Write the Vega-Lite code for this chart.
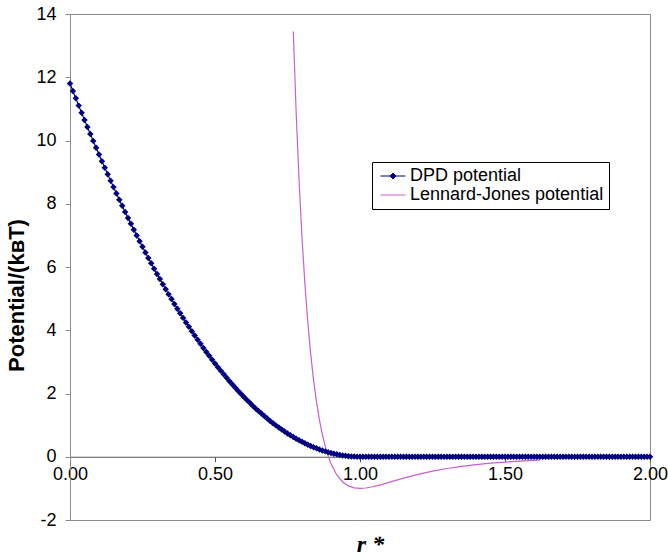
{
  "$schema": "https://vega.github.io/schema/vega-lite/v6.json",
  "width": 580,
  "height": 506,
  "autosize": "none",
  "padding": {"left": 70, "top": 14, "right": 18, "bottom": 39},
  "background": "white",
  "config": {
    "view": {"stroke": "#8a8a8a", "strokeWidth": 1},
    "font": "Liberation Sans"
  },
  "datasets": {
    "pts": [
      {"r":0.00,"u":11.8,"s":"DPD"},{"r":0.01,"u":11.565,"s":"DPD"},{"r":0.02,"u":11.333,"s":"DPD"},{"r":0.03,"u":11.103,"s":"DPD"},{"r":0.04,"u":10.875,"s":"DPD"},{"r":0.05,"u":10.65,"s":"DPD"},{"r":0.06,"u":10.426,"s":"DPD"},{"r":0.07,"u":10.206,"s":"DPD"},{"r":0.08,"u":9.988,"s":"DPD"},{"r":0.09,"u":9.772,"s":"DPD"},
      {"r":0.10,"u":9.558,"s":"DPD"},{"r":0.11,"u":9.347,"s":"DPD"},{"r":0.12,"u":9.138,"s":"DPD"},{"r":0.13,"u":8.931,"s":"DPD"},{"r":0.14,"u":8.727,"s":"DPD"},{"r":0.15,"u":8.526,"s":"DPD"},{"r":0.16,"u":8.326,"s":"DPD"},{"r":0.17,"u":8.129,"s":"DPD"},{"r":0.18,"u":7.934,"s":"DPD"},{"r":0.19,"u":7.742,"s":"DPD"},
      {"r":0.20,"u":7.552,"s":"DPD"},{"r":0.21,"u":7.364,"s":"DPD"},{"r":0.22,"u":7.179,"s":"DPD"},{"r":0.23,"u":6.996,"s":"DPD"},{"r":0.24,"u":6.816,"s":"DPD"},{"r":0.25,"u":6.638,"s":"DPD"},{"r":0.26,"u":6.462,"s":"DPD"},{"r":0.27,"u":6.288,"s":"DPD"},{"r":0.28,"u":6.117,"s":"DPD"},{"r":0.29,"u":5.948,"s":"DPD"},
      {"r":0.30,"u":5.782,"s":"DPD"},{"r":0.31,"u":5.618,"s":"DPD"},{"r":0.32,"u":5.456,"s":"DPD"},{"r":0.33,"u":5.297,"s":"DPD"},{"r":0.34,"u":5.14,"s":"DPD"},{"r":0.35,"u":4.986,"s":"DPD"},{"r":0.36,"u":4.833,"s":"DPD"},{"r":0.37,"u":4.683,"s":"DPD"},{"r":0.38,"u":4.536,"s":"DPD"},{"r":0.39,"u":4.391,"s":"DPD"},
      {"r":0.40,"u":4.248,"s":"DPD"},{"r":0.41,"u":4.108,"s":"DPD"},{"r":0.42,"u":3.97,"s":"DPD"},{"r":0.43,"u":3.834,"s":"DPD"},{"r":0.44,"u":3.7,"s":"DPD"},{"r":0.45,"u":3.57,"s":"DPD"},{"r":0.46,"u":3.441,"s":"DPD"},{"r":0.47,"u":3.315,"s":"DPD"},{"r":0.48,"u":3.191,"s":"DPD"},{"r":0.49,"u":3.069,"s":"DPD"},
      {"r":0.50,"u":2.95,"s":"DPD"},{"r":0.51,"u":2.833,"s":"DPD"},{"r":0.52,"u":2.719,"s":"DPD"},{"r":0.53,"u":2.607,"s":"DPD"},{"r":0.54,"u":2.497,"s":"DPD"},{"r":0.55,"u":2.39,"s":"DPD"},{"r":0.56,"u":2.284,"s":"DPD"},{"r":0.57,"u":2.182,"s":"DPD"},{"r":0.58,"u":2.082,"s":"DPD"},{"r":0.59,"u":1.984,"s":"DPD"},
      {"r":0.60,"u":1.888,"s":"DPD"},{"r":0.61,"u":1.795,"s":"DPD"},{"r":0.62,"u":1.704,"s":"DPD"},{"r":0.63,"u":1.615,"s":"DPD"},{"r":0.64,"u":1.529,"s":"DPD"},{"r":0.65,"u":1.446,"s":"DPD"},{"r":0.66,"u":1.364,"s":"DPD"},{"r":0.67,"u":1.285,"s":"DPD"},{"r":0.68,"u":1.208,"s":"DPD"},{"r":0.69,"u":1.134,"s":"DPD"},
      {"r":0.70,"u":1.062,"s":"DPD"},{"r":0.71,"u":0.992,"s":"DPD"},{"r":0.72,"u":0.925,"s":"DPD"},{"r":0.73,"u":0.86,"s":"DPD"},{"r":0.74,"u":0.798,"s":"DPD"},{"r":0.75,"u":0.738,"s":"DPD"},{"r":0.76,"u":0.68,"s":"DPD"},{"r":0.77,"u":0.624,"s":"DPD"},{"r":0.78,"u":0.571,"s":"DPD"},{"r":0.79,"u":0.52,"s":"DPD"},
      {"r":0.80,"u":0.472,"s":"DPD"},{"r":0.81,"u":0.426,"s":"DPD"},{"r":0.82,"u":0.382,"s":"DPD"},{"r":0.83,"u":0.341,"s":"DPD"},{"r":0.84,"u":0.302,"s":"DPD"},{"r":0.85,"u":0.266,"s":"DPD"},{"r":0.86,"u":0.231,"s":"DPD"},{"r":0.87,"u":0.199,"s":"DPD"},{"r":0.88,"u":0.17,"s":"DPD"},{"r":0.89,"u":0.143,"s":"DPD"},
      {"r":0.90,"u":0.118,"s":"DPD"},{"r":0.91,"u":0.096,"s":"DPD"},{"r":0.92,"u":0.076,"s":"DPD"},{"r":0.93,"u":0.058,"s":"DPD"},{"r":0.94,"u":0.042,"s":"DPD"},{"r":0.95,"u":0.03,"s":"DPD"},{"r":0.96,"u":0.019,"s":"DPD"},{"r":0.97,"u":0.011,"s":"DPD"},{"r":0.98,"u":0.005,"s":"DPD"},{"r":0.99,"u":0.001,"s":"DPD"},
      {"r":1.00,"u":0,"s":"DPD"},{"r":1.01,"u":0,"s":"DPD"},{"r":1.02,"u":0,"s":"DPD"},{"r":1.03,"u":0,"s":"DPD"},{"r":1.04,"u":0,"s":"DPD"},{"r":1.05,"u":0,"s":"DPD"},{"r":1.06,"u":0,"s":"DPD"},{"r":1.07,"u":0,"s":"DPD"},{"r":1.08,"u":0,"s":"DPD"},{"r":1.09,"u":0,"s":"DPD"},
      {"r":1.10,"u":0,"s":"DPD"},{"r":1.11,"u":0,"s":"DPD"},{"r":1.12,"u":0,"s":"DPD"},{"r":1.13,"u":0,"s":"DPD"},{"r":1.14,"u":0,"s":"DPD"},{"r":1.15,"u":0,"s":"DPD"},{"r":1.16,"u":0,"s":"DPD"},{"r":1.17,"u":0,"s":"DPD"},{"r":1.18,"u":0,"s":"DPD"},{"r":1.19,"u":0,"s":"DPD"},
      {"r":1.20,"u":0,"s":"DPD"},{"r":1.21,"u":0,"s":"DPD"},{"r":1.22,"u":0,"s":"DPD"},{"r":1.23,"u":0,"s":"DPD"},{"r":1.24,"u":0,"s":"DPD"},{"r":1.25,"u":0,"s":"DPD"},{"r":1.26,"u":0,"s":"DPD"},{"r":1.27,"u":0,"s":"DPD"},{"r":1.28,"u":0,"s":"DPD"},{"r":1.29,"u":0,"s":"DPD"},
      {"r":1.30,"u":0,"s":"DPD"},{"r":1.31,"u":0,"s":"DPD"},{"r":1.32,"u":0,"s":"DPD"},{"r":1.33,"u":0,"s":"DPD"},{"r":1.34,"u":0,"s":"DPD"},{"r":1.35,"u":0,"s":"DPD"},{"r":1.36,"u":0,"s":"DPD"},{"r":1.37,"u":0,"s":"DPD"},{"r":1.38,"u":0,"s":"DPD"},{"r":1.39,"u":0,"s":"DPD"},
      {"r":1.40,"u":0,"s":"DPD"},{"r":1.41,"u":0,"s":"DPD"},{"r":1.42,"u":0,"s":"DPD"},{"r":1.43,"u":0,"s":"DPD"},{"r":1.44,"u":0,"s":"DPD"},{"r":1.45,"u":0,"s":"DPD"},{"r":1.46,"u":0,"s":"DPD"},{"r":1.47,"u":0,"s":"DPD"},{"r":1.48,"u":0,"s":"DPD"},{"r":1.49,"u":0,"s":"DPD"},
      {"r":1.50,"u":0,"s":"DPD"},{"r":1.51,"u":0,"s":"DPD"},{"r":1.52,"u":0,"s":"DPD"},{"r":1.53,"u":0,"s":"DPD"},{"r":1.54,"u":0,"s":"DPD"},{"r":1.55,"u":0,"s":"DPD"},{"r":1.56,"u":0,"s":"DPD"},{"r":1.57,"u":0,"s":"DPD"},{"r":1.58,"u":0,"s":"DPD"},{"r":1.59,"u":0,"s":"DPD"},
      {"r":1.60,"u":0,"s":"DPD"},{"r":1.61,"u":0,"s":"DPD"},{"r":1.62,"u":0,"s":"DPD"},{"r":1.63,"u":0,"s":"DPD"},{"r":1.64,"u":0,"s":"DPD"},{"r":1.65,"u":0,"s":"DPD"},{"r":1.66,"u":0,"s":"DPD"},{"r":1.67,"u":0,"s":"DPD"},{"r":1.68,"u":0,"s":"DPD"},{"r":1.69,"u":0,"s":"DPD"},
      {"r":1.70,"u":0,"s":"DPD"},{"r":1.71,"u":0,"s":"DPD"},{"r":1.72,"u":0,"s":"DPD"},{"r":1.73,"u":0,"s":"DPD"},{"r":1.74,"u":0,"s":"DPD"},{"r":1.75,"u":0,"s":"DPD"},{"r":1.76,"u":0,"s":"DPD"},{"r":1.77,"u":0,"s":"DPD"},{"r":1.78,"u":0,"s":"DPD"},{"r":1.79,"u":0,"s":"DPD"},
      {"r":1.80,"u":0,"s":"DPD"},{"r":1.81,"u":0,"s":"DPD"},{"r":1.82,"u":0,"s":"DPD"},{"r":1.83,"u":0,"s":"DPD"},{"r":1.84,"u":0,"s":"DPD"},{"r":1.85,"u":0,"s":"DPD"},{"r":1.86,"u":0,"s":"DPD"},{"r":1.87,"u":0,"s":"DPD"},{"r":1.88,"u":0,"s":"DPD"},{"r":1.89,"u":0,"s":"DPD"},
      {"r":1.90,"u":0,"s":"DPD"},{"r":1.91,"u":0,"s":"DPD"},{"r":1.92,"u":0,"s":"DPD"},{"r":1.93,"u":0,"s":"DPD"},{"r":1.94,"u":0,"s":"DPD"},{"r":1.95,"u":0,"s":"DPD"},{"r":1.96,"u":0,"s":"DPD"},{"r":1.97,"u":0,"s":"DPD"},{"r":1.98,"u":0,"s":"DPD"},{"r":1.99,"u":0,"s":"DPD"},
      {"r":2.00,"u":0,"s":"DPD"},
      {"r":0.77,"u":13.448,"s":"LJ"},{"r":0.78,"u":10.856,"s":"LJ"},{"r":0.79,"u":8.713,"s":"LJ"},{"r":0.80,"u":6.938,"s":"LJ"},{"r":0.81,"u":5.467,"s":"LJ"},{"r":0.82,"u":4.252,"s":"LJ"},{"r":0.83,"u":3.246,"s":"LJ"},{"r":0.84,"u":2.417,"s":"LJ"},{"r":0.85,"u":1.734,"s":"LJ"},{"r":0.86,"u":1.172,"s":"LJ"},
      {"r":0.87,"u":0.71,"s":"LJ"},{"r":0.88,"u":0.334,"s":"LJ"},{"r":0.89,"u":0.027,"s":"LJ"},{"r":0.90,"u":-0.22,"s":"LJ"},{"r":0.92,"u":-0.577,"s":"LJ"},{"r":0.94,"u":-0.797,"s":"LJ"},{"r":0.96,"u":-0.922,"s":"LJ"},{"r":0.98,"u":-0.983,"s":"LJ"},{"r":1.00,"u":-1.0,"s":"LJ"},{"r":1.02,"u":-0.988,"s":"LJ"},
      {"r":1.04,"u":-0.956,"s":"LJ"},{"r":1.06,"u":-0.913,"s":"LJ"},{"r":1.08,"u":-0.864,"s":"LJ"},{"r":1.10,"u":-0.81,"s":"LJ"},{"r":1.15,"u":-0.678,"s":"LJ"},{"r":1.20,"u":-0.558,"s":"LJ"},{"r":1.25,"u":-0.456,"s":"LJ"},{"r":1.30,"u":-0.372,"s":"LJ"},{"r":1.35,"u":-0.303,"s":"LJ"},{"r":1.40,"u":-0.248,"s":"LJ"},
      {"r":1.45,"u":-0.204,"s":"LJ"},{"r":1.50,"u":-0.169,"s":"LJ"},{"r":1.55,"u":-0.139,"s":"LJ"},{"r":1.60,"u":-0.116,"s":"LJ"},{"r":1.62,"u":-0.108,"s":"LJ"}
    ]
  },
  "data": {"name": "pts"},
  "encoding": {
    "x": {
      "field": "r", "type": "quantitative",
      "scale": {"domain": [0, 2], "nice": false, "zero": false},
      "axis": {
        "values": [0, 0.5, 1, 1.5, 2], "format": ".2f",
        "offset": -63.25, "grid": false,
        "domainColor": "#555555", "tickColor": "#555555", "tickSize": 5,
        "labelFont": "Liberation Sans", "labelFontSize": 18, "labelColor": "black", "labelPadding": 4,
        "labelFlush": false,
        "title": "r *", "titleFont": "Liberation Serif", "titleFontStyle": "italic", "titleFontWeight": "bold",
        "titleFontSize": 24, "titleColor": "black", "titleY": 76, "titleX": 300
      }
    },
    "y": {
      "field": "u", "type": "quantitative",
      "scale": {"domain": [-2, 14], "nice": false, "zero": false},
      "axis": {
        "values": [-2, 0, 2, 4, 6, 8, 10, 12, 14], "grid": false,
        "labelExpr": "datum.value + ''",
        "domainColor": "#8a8a8a", "tickColor": "#8a8a8a", "tickSize": 5,
        "labelFont": "Liberation Sans", "labelFontSize": 18, "labelColor": "black", "labelPadding": 9,
        "title": "Potential/(kʙT)", "titleFont": "Liberation Sans", "titleFontWeight": "bold",
        "titleFontSize": 22, "titleColor": "black", "titlePadding": 7, "titleY": 281
      }
    },
    "color": {
      "field": "s", "type": "nominal",
      "scale": {"domain": ["DPD", "LJ"], "range": ["#000080", "#c85fd0"]},
      "legend": {
        "orient": "none", "legendX": 302, "legendY": 148,
        "title": null, "direction": "vertical",
        "labelExpr": "datum.value === 'DPD' ? 'DPD potential' : 'Lennard-Jones potential'",
        "labelFont": "Liberation Sans", "labelFontSize": 18, "labelColor": "black", "labelLimit": 400,
        "strokeColor": "black", "fillColor": "white", "padding": 5,
        "symbolSize": 278, "rowPadding": 1, "labelOffset": 8, "symbolOffset": 7,
        "encode": {
          "symbols": {
            "update": {
              "shape": {"signal": "datum.value === 'DPD' ? 'M-1.5,0H1.5M0,-0.35L0.35,0L0,0.35L-0.35,0Z' : 'M-1.5,0H1.5'"},
              "fill": {"signal": "datum.value === 'DPD' ? '#000080' : 'transparent'"},
              "stroke": {"signal": "datum.value === 'DPD' ? '#000080' : '#c85fd0'"},
              "strokeWidth": {"value": 1},
              "size": {"value": 278},
              "opacity": {"value": 1}
            }
          }
        }
      }
    }
  },
  "layer": [
    {"mark": {"type": "line", "strokeWidth": 1.2}},
    {
      "transform": [{"filter": "datum.s === 'DPD'"}],
      "mark": {"type": "point", "shape": "diamond", "filled": true, "size": 42, "opacity": 1}
    }
  ]
}
